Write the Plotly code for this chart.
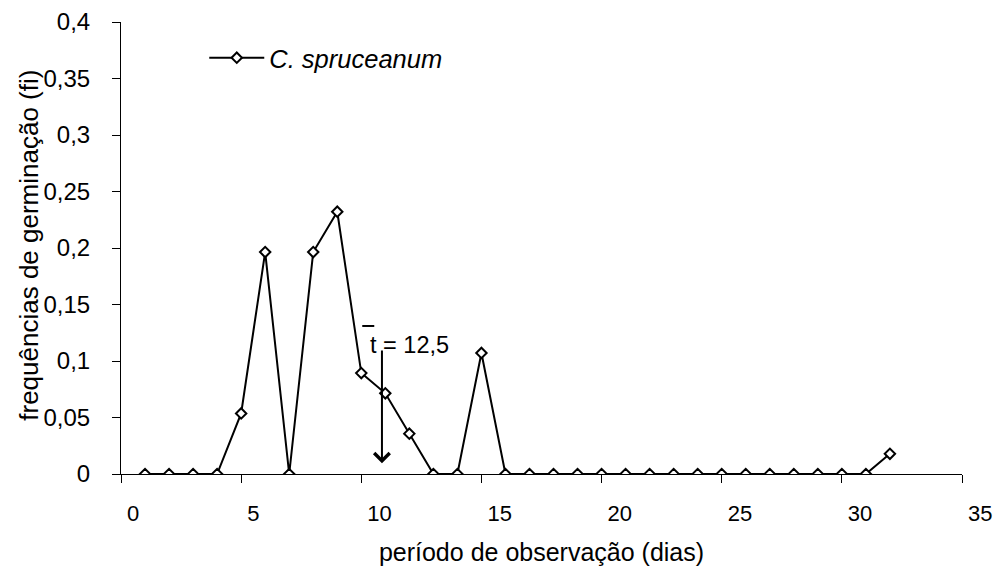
import plotly.graph_objects as go

# Data
dias = list(range(1, 33))
fi = [0, 0, 0, 0, 0.0536, 0.1964, 0, 0.1964, 0.2321, 0.0893, 0.0714, 0.0357,
      0, 0, 0.1071, 0, 0, 0, 0, 0, 0, 0, 0, 0, 0, 0, 0, 0, 0, 0, 0, 0.0179]
serie_nome = "C. spruceanum"
x_ticks = [0, 5, 10, 15, 20, 25, 30, 35]
y_ticks = [0, 0.05, 0.1, 0.15, 0.2, 0.25, 0.3, 0.35, 0.4]
y_tick_text = ["0", "0,05", "0,1", "0,15", "0,2", "0,25", "0,3", "0,35", "0,4"]
x_title = "período de observação (dias)"
y_title = "frequências de germinação (fi)"

# mean-time annotation
t_label = "t = 12,5"
arrow_x = 10.86
arrow_top = 0.1107
arrow_tip = 0.0095
label_x = 10.29
label_y = 0.1143
bar_x0, bar_x1, bar_y = 10.04, 10.54, 0.131

FONT = "Liberation Sans, Arial, sans-serif"

fig = go.Figure()
fig.add_trace(go.Scatter(
    x=dias, y=fi, mode="lines+markers", name="<i>" + serie_nome + "</i>",
    line=dict(color="black", width=2),
    marker=dict(symbol="diamond", size=8, color="white",
                line=dict(color="black", width=2)),
))

fig.add_annotation(x=arrow_x, y=arrow_tip, ax=arrow_x, ay=arrow_top,
                   xref="x", yref="y", axref="x", ayref="y",
                   text="", showarrow=True, arrowhead=4, arrowsize=1.5,
                   arrowwidth=2, arrowcolor="black")
fig.add_annotation(x=label_x, y=label_y, xref="x", yref="y", text=t_label,
                   showarrow=False, xanchor="left", yanchor="middle",
                   font=dict(family=FONT, size=23.5, color="black"))
fig.add_shape(type="line", xref="x", yref="y", x0=bar_x0, x1=bar_x1,
              y0=bar_y, y1=bar_y, line=dict(color="black", width=2))

# y-axis title as rotated annotation
fig.add_annotation(x=-(121 - 29) / 841, y=0.505, xref="paper", yref="paper",
                   text=y_title, textangle=-90, showarrow=False,
                   xanchor="center", yanchor="middle",
                   font=dict(family=FONT, size=26, color="black"))

fig.update_layout(
    width=1000, height=576,
    margin=dict(l=121, r=38, t=22, b=102),
    plot_bgcolor="white", paper_bgcolor="white",
    font=dict(family=FONT, size=22, color="black"),
    showlegend=True,
    legend=dict(x=0.099, y=0.92, xanchor="left", yanchor="middle",
                bgcolor="rgba(0,0,0,0)", font=dict(size=25.5),
                itemwidth=55),
    xaxis=dict(range=[0, 35], tickvals=x_ticks, ticks="outside", ticklen=8,
               tickcolor="black", showline=True, linecolor="black", linewidth=1,
               showgrid=False, zeroline=False, automargin=False,
               ticklabelposition="outside right", ticklabelshift=5,
               ticklabelstandoff=20,
               title=dict(text=x_title, standoff=18, font=dict(size=25))),
    yaxis=dict(range=[0, 0.4], tickvals=y_ticks, ticktext=y_tick_text,
               ticks="outside", ticklen=8, tickcolor="black", showline=True,
               linecolor="black", linewidth=1, showgrid=False, zeroline=False,
               automargin=False, ticklabelstandoff=17,
               tickfont=dict(size=24)),
)

fig.write_html("out.html", post_script="document.body.style.margin='0';",
               config={"displayModeBar": False})
